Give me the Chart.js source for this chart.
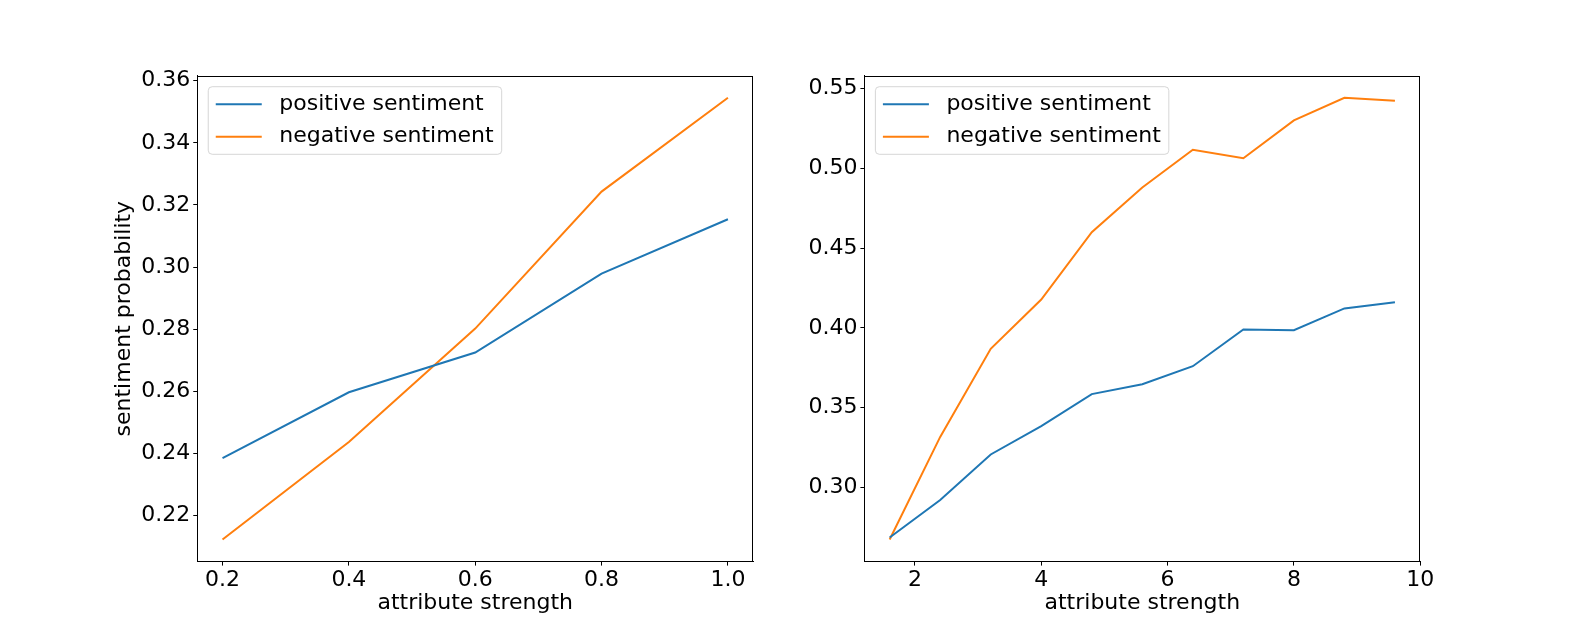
<!DOCTYPE html>
<html>
<head>
<meta charset="utf-8">
<script src="https://cdn.jsdelivr.net/npm/chart.js@4"></script>
<style>
html,body{margin:0;padding:0;background:#fff;}
#wrap{position:relative;width:1578px;height:631px;overflow:hidden;}
canvas{position:absolute;top:0;}
</style>
</head>
<body>
<div id="wrap">
<canvas id="c1" width="789" height="631" style="left:0px"></canvas>
<canvas id="c2" width="789" height="631" style="left:789px"></canvas>
</div>
<script>
// ---- data ----
const seriesLabels = ['positive sentiment', 'negative sentiment'];
const seriesColors = ['#1f77b4', '#ff7f0e'];

const leftX = [0.2, 0.4, 0.6, 0.8, 1.0];
const leftPositive = [0.2385, 0.2597, 0.2725, 0.2979, 0.3154];
const leftNegative = [0.2123, 0.2437, 0.2802, 0.3243, 0.3545];

const rightX = [1.6, 2.4, 3.2, 4.0, 4.8, 5.6, 6.4, 7.2, 8.0, 8.8, 9.6];
const rightPositive = [0.2687, 0.2921, 0.3207, 0.3384, 0.3585, 0.3647, 0.3760, 0.3990, 0.3986, 0.4122, 0.4161];
const rightNegative = [0.2674, 0.3317, 0.3869, 0.4178, 0.4600, 0.4880, 0.5116, 0.5063, 0.5300, 0.5442, 0.5423];

const leftXTicks = [0.2, 0.4, 0.6, 0.8, 1.0];
const leftYTicks = [0.22, 0.24, 0.26, 0.28, 0.30, 0.32, 0.34, 0.36];
const rightXTicks = [2, 4, 6, 8, 10];
const rightYTicks = [0.30, 0.35, 0.40, 0.45, 0.50, 0.55];

const xTitle = 'attribute strength';
const yTitle = 'sentiment probability';

// ---- helpers ----
const FONT = {family: "'DejaVu Sans', sans-serif", size: 22};
Chart.defaults.color = '#000';
Chart.defaults.font.family = FONT.family;
Chart.defaults.font.size = FONT.size;

function autoRange(arrays) {
  const all = [].concat(...arrays);
  const mn = Math.min(...all), mx = Math.max(...all);
  const m = (mx - mn) * 0.05;
  return {min: mn - m, max: mx + m};
}

function pts(xs, ys) { return xs.map((x, i) => ({x: x, y: ys[i]})); }

const framePlugin = {
  id: 'frameAndLegend',
  afterDraw(chart) {
    const ctx = chart.ctx, a = chart.chartArea;
    ctx.save();
    ctx.strokeStyle = '#000';
    ctx.lineWidth = 1;
    const l = Math.round(a.left) + 0.5, r = Math.round(a.right) - 0.5;
    const t = Math.round(a.top) + 0.5, b = Math.round(a.bottom) - 0.5;
    ctx.strokeRect(l, t, r - l, b - t);

    // legend (matplotlib style, upper left inside axes)
    const ds = chart.data.datasets;
    ctx.font = FONT.size + 'px ' + FONT.family;
    let maxW = 0;
    ds.forEach(d => { maxW = Math.max(maxW, ctx.measureText(d.label).width); });
    const x0 = a.left + 11, y0 = a.top + 11;
    const textOff = 71, rowH = 32.4, firstRow = 17.6;
    const w = textOff + maxW + 8, h = firstRow * 2 + rowH * (ds.length - 1);
    const rad = 4;
    ctx.beginPath();
    ctx.moveTo(x0 + rad, y0);
    ctx.lineTo(x0 + w - rad, y0);
    ctx.arcTo(x0 + w, y0, x0 + w, y0 + rad, rad);
    ctx.lineTo(x0 + w, y0 + h - rad);
    ctx.arcTo(x0 + w, y0 + h, x0 + w - rad, y0 + h, rad);
    ctx.lineTo(x0 + rad, y0 + h);
    ctx.arcTo(x0, y0 + h, x0, y0 + h - rad, rad);
    ctx.lineTo(x0, y0 + rad);
    ctx.arcTo(x0, y0, x0 + rad, y0, rad);
    ctx.closePath();
    ctx.fillStyle = 'rgba(255,255,255,0.8)';
    ctx.fill();
    ctx.strokeStyle = 'rgba(204,204,204,0.8)';
    ctx.lineWidth = 1;
    ctx.stroke();
    ds.forEach((d, i) => {
      const yy = y0 + firstRow + rowH * i;
      ctx.beginPath();
      ctx.strokeStyle = d.borderColor;
      ctx.lineWidth = d.borderWidth;
      ctx.moveTo(x0 + 7.5, yy);
      ctx.lineTo(x0 + 53.5, yy);
      ctx.stroke();
      ctx.fillStyle = '#000';
      ctx.textBaseline = 'middle';
      ctx.textAlign = 'left';
      ctx.fillText(d.label, x0 + textOff, yy);
    });
    ctx.restore();
  }
};

function makeChart(canvasId, xs, pos, neg, xTicks, yTicks, xDec, yDec, geom, showYTitle) {
  const xr = autoRange([xs]);
  const yr = autoRange([pos, neg]);
  return new Chart(document.getElementById(canvasId), {
    type: 'line',
    data: {
      datasets: [
        {label: seriesLabels[0], data: pts(xs, pos), borderColor: seriesColors[0], backgroundColor: seriesColors[0], borderWidth: 2, pointRadius: 0, tension: 0, fill: false},
        {label: seriesLabels[1], data: pts(xs, neg), borderColor: seriesColors[1], backgroundColor: seriesColors[1], borderWidth: 2, pointRadius: 0, tension: 0, fill: false}
      ]
    },
    options: {
      responsive: false,
      animation: false,
      devicePixelRatio: 1,
      events: [],
      layout: {padding: {left: 0, top: geom.top, right: geom.right, bottom: 0}},
      plugins: {legend: {display: false}, tooltip: {enabled: false}},
      scales: {
        x: {
          type: 'linear',
          min: xr.min, max: xr.max,
          afterBuildTicks: s => { s.ticks = xTicks.map(v => ({value: v})); },
          afterFit: s => { s.height = geom.xHeight; },
          ticks: {padding: 1, maxRotation: 0, autoSkip: false, color: '#000',
                  callback: v => Number(v).toFixed(xDec)},
          grid: {display: true, drawOnChartArea: false, drawTicks: true, tickLength: 4, color: '#000', lineWidth: 1},
          border: {display: true, color: '#000', width: 1},
          title: {display: true, text: xTitle, color: '#000', padding: {top: 0, bottom: 15}}
        },
        y: {
          type: 'linear',
          min: yr.min, max: yr.max,
          afterBuildTicks: s => { s.ticks = yTicks.map(v => ({value: v})); },
          afterFit: s => { s.width = geom.yWidth; },
          ticks: {padding: 3, autoSkip: false, color: '#000',
                  callback: v => Number(v).toFixed(yDec)},
          grid: {display: true, drawOnChartArea: false, drawTicks: true, tickLength: 4, color: '#000', lineWidth: 1},
          border: {display: true, color: '#000', width: 1},
          title: {display: showYTitle, text: yTitle, color: '#000', padding: {top: 111, bottom: 0}}
        }
      }
    },
    plugins: [framePlugin]
  });
}

makeChart('c1', leftX, leftPositive, leftNegative, leftXTicks, leftYTicks, 1, 2,
  {top: 75.7, right: 789 - 753.2, xHeight: 631 - 561.6, yWidth: 197.25}, true);
makeChart('c2', rightX, rightPositive, rightNegative, rightXTicks, rightYTicks, 0, 2,
  {top: 75.7, right: 789 - 631.2, xHeight: 631 - 561.6, yWidth: 864.4 - 789}, false);
</script>
</body>
</html>
